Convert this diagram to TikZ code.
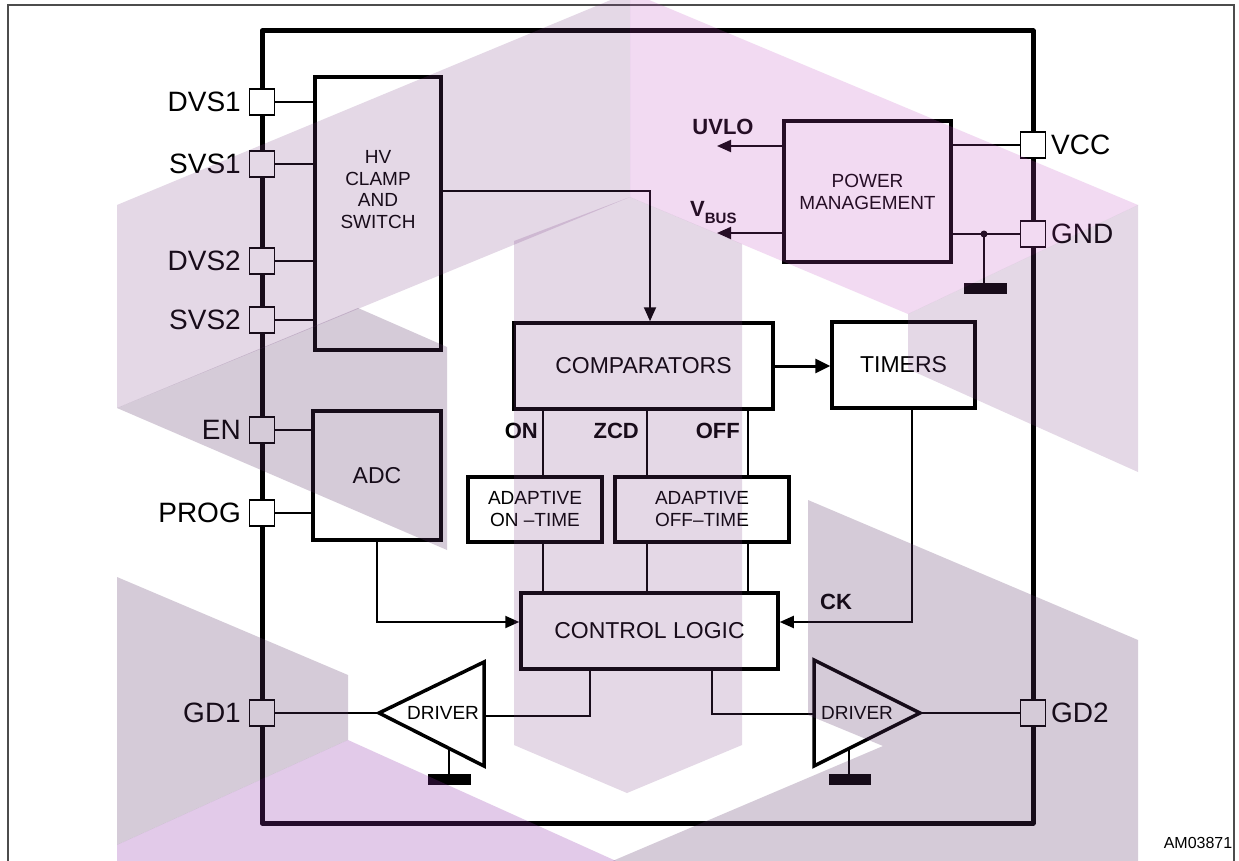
\documentclass[tikz,border=0pt]{standalone}
\usepackage{fontspec}
\setmainfont{Liberation Sans}
\usetikzlibrary{arrows.meta}
\definecolor{wmA}{RGB}{120,60,130}
\definecolor{wmP}{RGB}{190,70,190}
\definecolor{wmD}{RGB}{91,51,103}
\definecolor{wmL}{RGB}{143,47,171}
\tikzset{
 blk/.style={draw, line width=3.5pt, fill=white, inner sep=0pt, align=center, font=\fontsize{23}{27}\selectfont},
 sblk/.style={blk, font=\fontsize{19}{22}\selectfont},
 blkline/.style={line width=3.5pt, line join=miter},
 pin/.style={draw, line width=1.5pt, fill=white, minimum width=25pt, minimum height=26pt, inner sep=0pt},
 pinlab/.style={inner sep=0pt, font=\fontsize{28}{30}\selectfont},
 small/.style={inner sep=0pt, align=center, font=\fontsize{19}{21.7}\selectfont},
 wire/.style={line width=2pt},
 arr/.style={wire, -{Triangle[length=14pt,width=12pt]}},
 sig/.style={inner sep=0pt, font=\fontsize{22}{24}\selectfont\bfseries},
 chip/.style={line width=5pt, line join=round},
 wmA/.style={fill=wmA, fill opacity=0.2},
 wmP/.style={fill=wmP, fill opacity=0.2},
 wmD/.style={fill=wmD, fill opacity=0.25},
 wmL/.style={fill=wmL, fill opacity=0.25},
}
\begin{document}
\begin{tikzpicture}[x=1pt,y=-1pt]
\useasboundingbox (0,0) rectangle (1239,861);
\fill[white] (0,0) rectangle (1239,861);
% frame
\draw[line width=1.5pt, black!70] (8,870) -- (8,5) -- (1234,5) -- (1234,870);
% chip outline
\draw[chip] (262,31) rectangle (1033,823);
% blocks
\node[blk, minimum width=126pt, minimum height=273pt] (HV) at (378,213.5) {};
\node[small] (hvt) at (378,189.5) {HV\\CLAMP\\AND\\SWITCH};
\node[sblk, minimum width=167pt, minimum height=141pt] (PM) at (867.5,191.5) {POWER\\MANAGEMENT};
\node[blk, minimum width=259pt, minimum height=86pt] (COMP) at (643.5,366) {COMPARATORS};
\node[blk, minimum width=143pt, minimum height=86pt] (TIM) at (903.5,365) {TIMERS};
\node[blk, minimum width=128pt, minimum height=129pt] (ADC) at (377,475.5) {ADC};
\node[sblk, minimum width=134pt, minimum height=65pt] (ONT) at (535,509.5) {ADAPTIVE\\ON –TIME};
\node[sblk, minimum width=174pt, minimum height=65pt] (OFFT) at (702,509.5) {ADAPTIVE\\OFF–TIME};
\node[blk, minimum width=257pt, minimum height=76pt] (CL) at (649.5,631) {CONTROL LOGIC};
% pins left
\foreach \n/\y in {DVS1/102, SVS1/164, DVS2/261, SVS2/320, EN/430, PROG/513, GD1/713}{
  \node[pin] (\n) at (262,\y) {};
  \node[pinlab, anchor=east] (l\n) at (241,\y) {\n};
}
% pins right
\foreach \n/\y in {VCC/145, GND/234, GD2/713}{
  \node[pin] (\n) at (1033,\y) {};
  \node[pinlab, anchor=west] (l\n) at (1051,\y) {\n};
}
% pin wires
\foreach \p in {DVS1,SVS1,DVS2,SVS2}{\draw[wire] (\p.east) -- (\p.east -| HV.west);}
\foreach \p in {EN,PROG}{\draw[wire] (\p.east) -- (\p.east -| ADC.west);}
\draw[arr] ([yshift=22.5pt]HV.east) -| ([xshift=6.5pt]COMP.north);
% power management
\coordinate (uvlo) at (717,146);
\coordinate (vbus) at (717,233);
\draw[arr] (PM.west |- uvlo) -- (uvlo);
\draw[arr] (PM.west |- vbus) -- (vbus);
\node[sig] (luvlo) at (723,127) {UVLO};
\node[sig, anchor=base west] (lvbus) at (690,217) {V\raisebox{-6pt}{\fontsize{15}{15}\selectfont BUS}};
\draw[wire] (PM.east |- VCC) -- (VCC.west);
\draw[wire] (PM.east |- GND) -- (GND.west);
\coordinate (gj) at (984,234);
\coordinate (gb) at (984,283);
\fill (gj) circle (3.5pt);
\draw[wire] (gj) -- (gb);
\fill (964,283) rectangle (1007,294);
% comparators
\draw[wire, line width=3pt, -{Triangle[length=15pt,width=14pt]}] (COMP.east) -- (COMP.east -| TIM.west);
\foreach \x/\b in {543/ONT, 647/OFFT, 748/OFFT}{
  \draw[wire] (COMP.south -| \x,0) -- (\b.north -| \x,0);
  \draw[wire] (\b.south -| \x,0) -- (CL.north -| \x,0);
}
\node[sig, anchor=east] (lon) at (538,431) {ON};
\node[sig, anchor=east] (lzcd) at (639,431) {ZCD};
\node[sig, anchor=east] (loff) at (740,431) {OFF};
\draw[arr] (ADC.south) |- ([yshift=9pt]CL.west);
\draw[arr] (TIM.south -| 912,0) |- ([yshift=9pt]CL.east);
\node[sig] (lck) at (836,602) {CK};
% driver 1
\coordinate (d1t) at (379,713);
\coordinate (d1a) at (484,662);
\coordinate (d1b) at (484,766);
\coordinate (d1in) at (484,716);
\draw[blkline, fill=white] (d1t) -- (d1a) -- (d1b) -- cycle;
\node[small] (drv1) at (443,713) {DRIVER};
\draw[wire] (CL.south -| 590,0) |- (d1in);
\draw[wire] (GD1.east) -- (d1t);
\coordinate (g1) at (449,748);
\coordinate (g1b) at (449,774);
\draw[wire] (g1) -- (g1b);
\fill (428,774) rectangle (471,785);
% driver 2
\coordinate (d2t) at (920,713);
\coordinate (d2a) at (814,660);
\coordinate (d2b) at (814,766);
\coordinate (d2in) at (814,714);
\draw[blkline, fill=white] (d2t) -- (d2a) -- (d2b) -- cycle;
\node[small] (drv2) at (857,713) {DRIVER};
\draw[wire] (CL.south -| 712,0) |- (d2in);
\draw[wire] (d2t) -- (GD2.west);
\coordinate (g2) at (849,748);
\coordinate (g2b) at (849,774);
\draw[wire] (g2) -- (g2b);
\fill (829,774) rectangle (871,785);
% code
\node[inner sep=0pt, font=\fontsize{16}{18}\selectfont] (code) at (1198,843) {AM03871};
% watermark overlay
\fill[wmA] (117,205) -- (630,-8) -- (630,197) -- (117,408) -- cycle;
\fill[wmP] (630,-8) -- (1138,205) -- (908,314) -- (630,197) -- cycle;
\fill[wmA] (514,241) -- (630,197) -- (742,244) -- (742,745) -- (627,793) -- (514,745) -- cycle;
\fill[wmD] (117,408) -- (358,308) -- (447,347) -- (447,550) -- cycle;
\fill[wmD] (117,577) -- (348,675) -- (348,740) -- (117,845) -- cycle;
\fill[wmL] (117,845) -- (348,740) -- (625,865) -- (117,865) -- cycle;
\fill[wmA] (908,314) -- (1138,205) -- (1138,472) -- (908,369) -- cycle;
\fill[wmD] (808,500) -- (1138,640) -- (1138,865) -- (603,865) -- (883,746) -- (808,715) -- cycle;
\end{tikzpicture}
\end{document}
